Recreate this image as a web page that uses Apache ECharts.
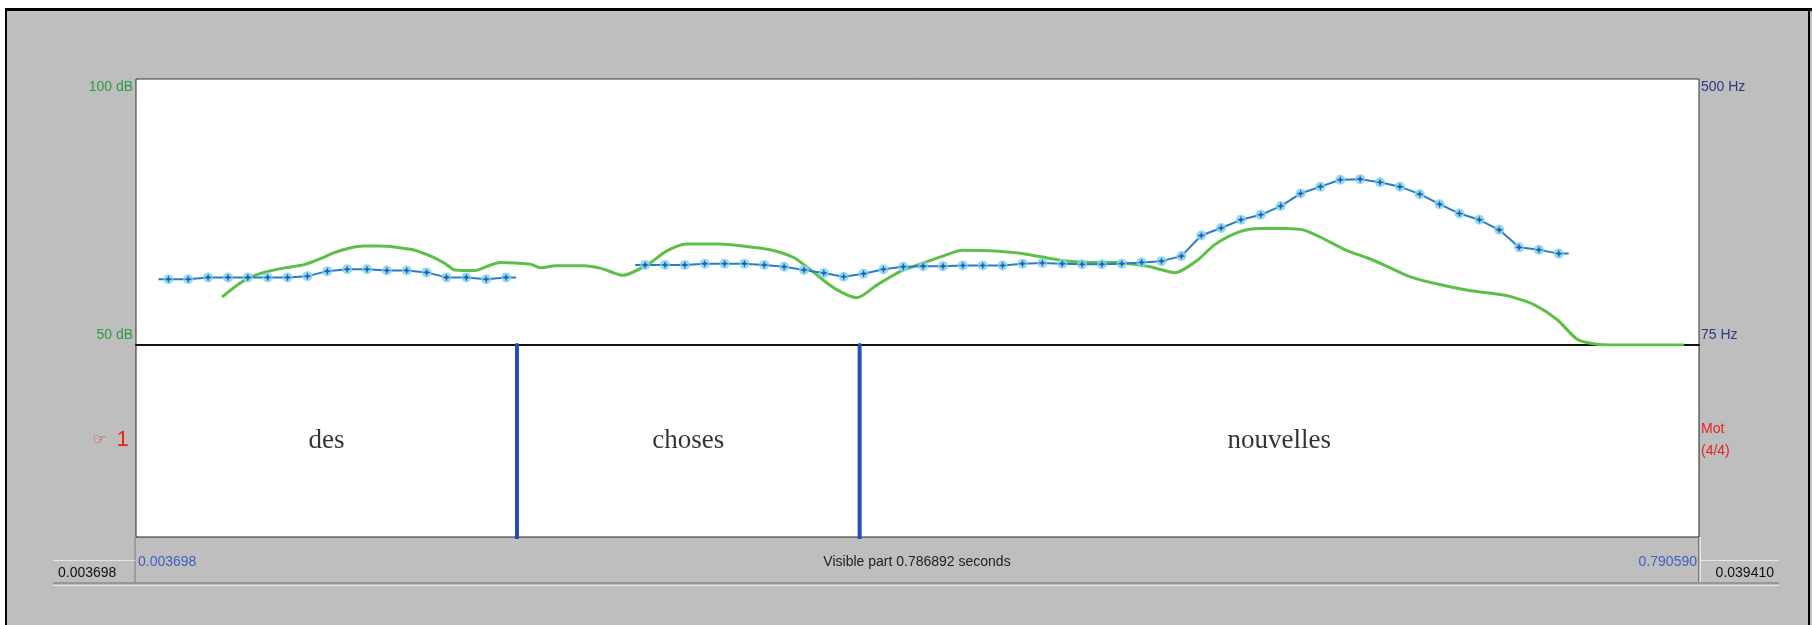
<!DOCTYPE html>
<html>
<head>
<meta charset="utf-8">
<script src="https://cdn.jsdelivr.net/npm/echarts@6/dist/echarts.min.js"></script>
<style>
  html, body { margin: 0; padding: 0; background: #bebebe; }
  #chart { width: 1812px; height: 625px; }
</style>
</head>
<body>
<div id="chart"></div>
<script>
/* temps visibles */
var tStart = 0.003698;
var tEnd = 0.790590;

/* ticks des axes */
var dbTicks = [50, 100];
var hzTicks = [75, 500];

/* pitch (Hz), deux segments voises */
var pitchTimes1 = [0.02, 0.03, 0.04, 0.05, 0.06, 0.07, 0.08, 0.09, 0.10, 0.11, 0.12, 0.13, 0.14, 0.15, 0.16, 0.17, 0.18, 0.19];
var pitchHz1 = [180, 180, 183, 183, 183, 183, 183, 185, 193, 196, 196, 194, 194, 191, 183, 183, 180, 183];

var pitchTimes2 = [0.26, 0.27, 0.28, 0.29, 0.30, 0.31, 0.32, 0.33, 0.34, 0.35,
    0.36, 0.37, 0.38, 0.39, 0.40, 0.41, 0.42, 0.43, 0.44, 0.45,
    0.46, 0.47, 0.48, 0.49, 0.50, 0.51, 0.52, 0.53, 0.54, 0.55,
    0.56, 0.57, 0.58, 0.59, 0.60, 0.61, 0.62, 0.63, 0.64, 0.65,
    0.66, 0.67, 0.68, 0.69, 0.70, 0.71, 0.72];
var pitchHz2 = [203, 203, 203, 205, 205, 205, 203, 200, 195, 190,
    184, 189, 196, 200, 201, 201, 202, 202, 202, 205,
    206, 205, 204, 204, 205, 207, 209, 217, 250, 262,
    275, 283, 297, 317, 328, 339, 340, 335, 328, 316,
    300, 285, 275, 259, 231, 227, 221];

/* intensite (dB) */
var intTimes = [0.0470, 0.0556, 0.0611, 0.0686, 0.0787, 0.0883, 0.0963, 0.1039, 0.1109, 0.1180,
    0.1265, 0.1341, 0.1432, 0.1527, 0.1593, 0.1643, 0.1744, 0.1819, 0.1870, 0.1945,
    0.2021, 0.2076, 0.2151, 0.2292, 0.2378, 0.2489, 0.2620, 0.2705, 0.2806, 0.2977,
    0.3093, 0.3229, 0.3350, 0.3440, 0.3556, 0.3667, 0.3768, 0.3883, 0.3984, 0.4100,
    0.4196, 0.4336, 0.4497, 0.4633, 0.4719, 0.4890, 0.4981, 0.5056, 0.5142, 0.5268,
    0.5379, 0.5469, 0.5595, 0.5696, 0.5822, 0.5917, 0.5998, 0.6124, 0.6234, 0.6335,
    0.6446, 0.6572, 0.6743, 0.6904, 0.6959, 0.7075, 0.7191, 0.7292, 0.7382, 0.7458,
    0.7830];
var intDb = [59.0, 61.5, 62.7, 63.7, 64.5, 65.1, 66.2, 67.4, 68.2, 68.6,
    68.6, 68.4, 67.9, 66.6, 65.3, 64.1, 64.0, 65.0, 65.5, 65.4,
    65.2, 64.5, 64.9, 64.9, 64.4, 63.1, 65.3, 67.6, 69.0, 69.0,
    68.6, 67.9, 66.4, 63.9, 60.6, 58.9, 61.3, 63.8, 65.2, 66.7,
    67.8, 67.7, 67.2, 66.3, 65.8, 65.5, 65.5, 65.2, 64.7, 63.6,
    65.9, 68.9, 71.3, 71.9, 71.9, 71.6, 70.3, 67.9, 66.4, 64.8,
    62.9, 61.6, 60.3, 59.5, 59.1, 57.6, 54.8, 51.1, 50.2, 50.0,
    50.0];

/* tier "Mot" */
var tierBounds = [0.003698, 0.1955, 0.368, 0.790590];
var tierWords = ['des', 'choses', 'nouvelles'];

var halfStep = 0.005;

function zip(a, b) {
    var out = [];
    for (var i = 0; i < a.length; i++) out.push([a[i], b[i]]);
    return out;
}
function pitchLine(times, hz) {
    var d = zip(times, hz);
    d.unshift([times[0] - halfStep, hz[0]]);
    d.push([times[times.length - 1] + halfStep, hz[hz.length - 1]]);
    return d;
}

var wordData = [];
for (var i = 0; i < tierWords.length; i++) {
    wordData.push({ value: [(tierBounds[i] + tierBounds[i + 1]) / 2, 0.5], name: tierWords[i] });
}

var starPath = 'path://M0,-5L1.3,-1.3L5,0L1.3,1.3L0,5L-1.3,1.3L-5,0L-1.3,-1.3Z';
var font = 'Arial, "Liberation Sans", sans-serif';

function pitchSeries(times, hz) {
    return [
        {
            type: 'line', xAxisIndex: 0, yAxisIndex: 1,
            data: pitchLine(times, hz), showSymbol: false,
            lineStyle: { color: '#2a7cc8', width: 2 }, z: 4, animation: false
        },
        {
            type: 'scatter', xAxisIndex: 0, yAxisIndex: 1,
            data: zip(times, hz), symbol: 'circle', symbolSize: 10,
            itemStyle: { color: '#7fd6ee', opacity: 0.85 }, z: 5, animation: false
        },
        {
            type: 'scatter', xAxisIndex: 0, yAxisIndex: 1,
            data: zip(times, hz), symbol: starPath, symbolSize: 8,
            itemStyle: { color: '#1b3f9e' }, z: 6, animation: false
        }
    ];
}

/* frontieres du tier : une ligne verticale par frontiere interieure */
var boundSeries = [];
for (var j = 1; j < tierBounds.length - 1; j++) {
    boundSeries.push({
        type: 'line', xAxisIndex: 1, yAxisIndex: 2,
        data: [[tierBounds[j], -0.012], [tierBounds[j], 1]], showSymbol: false,
        lineStyle: { color: '#2150b4', width: 4, cap: 'round' }, z: 4, animation: false
    });
}

var chart = echarts.init(document.getElementById('chart'));
var option = {
    backgroundColor: '#bebebe',
    animation: false,
    grid: [
        { left: 136, top: 79, width: 1563, height: 266, show: true, backgroundColor: '#fff', borderColor: '#333', borderWidth: 1 },
        { left: 136, top: 345, width: 1563, height: 192, show: true, backgroundColor: '#fff', borderColor: '#222', borderWidth: 1 }
    ],
    xAxis: [
        {
            type: 'value', gridIndex: 0, min: tStart, max: tEnd,
            axisLine: { show: true, lineStyle: { color: '#111', width: 2 } },
            axisTick: { show: false }, axisLabel: { show: false }, splitLine: { show: false }
        },
        {
            type: 'value', gridIndex: 1, min: tStart, max: tEnd,
            axisLine: { show: false }, axisTick: { show: false }, axisLabel: { show: false }, splitLine: { show: false }
        }
    ],
    yAxis: [
        {
            type: 'value', gridIndex: 0, position: 'left', min: dbTicks[0], max: dbTicks[1],
            interval: dbTicks[1] - dbTicks[0],
            axisLine: { show: false }, axisTick: { show: false }, splitLine: { show: false },
            axisLabel: {
                margin: 3, color: '#2f9a44', fontSize: 14, fontFamily: font,
                formatter: function (v) { return v === dbTicks[1] ? '{t|' + v + ' dB}' : '{b|' + v + ' dB}'; },
                rich: { t: { padding: [16, 0, 0, 0] }, b: { padding: [0, 0, 20, 0] } }
            }
        },
        {
            type: 'value', gridIndex: 0, position: 'right', min: hzTicks[0], max: hzTicks[1],
            interval: hzTicks[1] - hzTicks[0],
            axisLine: { show: false }, axisTick: { show: false }, splitLine: { show: false },
            axisLabel: {
                margin: 2, color: '#2b3a80', fontSize: 14, fontFamily: font,
                formatter: function (v) { return v === hzTicks[1] ? '{t|' + v + ' Hz}' : '{b|' + v + ' Hz}'; },
                rich: { t: { padding: [16, 0, 0, 0] }, b: { padding: [0, 0, 20, 0] } }
            }
        },
        {
            type: 'value', gridIndex: 1, min: 0, max: 1,
            axisLine: { show: false }, axisTick: { show: false }, axisLabel: { show: false }, splitLine: { show: false }
        }
    ],
    series: [
        {
            type: 'line', xAxisIndex: 0, yAxisIndex: 0,
            data: zip(intTimes, intDb), showSymbol: false, smooth: 0.25,
            lineStyle: { color: '#5cc048', width: 3 }, z: 3, animation: false
        }
    ].concat(pitchSeries(pitchTimes1, pitchHz1), pitchSeries(pitchTimes2, pitchHz2), boundSeries, [
        {
            type: 'scatter', xAxisIndex: 1, yAxisIndex: 2,
            data: wordData, symbolSize: 0,
            label: {
                show: true, position: 'inside', formatter: '{b}',
                color: '#000', fontSize: 27, fontFamily: '"Liberation Serif", "Times New Roman", serif'
            },
            animation: false
        }
    ]),
    graphic: [
        /* cadre */
        { type: 'rect', shape: { x: 0, y: 0, width: 1812, height: 8 }, style: { fill: '#fff' }, z: 10 },
        { type: 'rect', shape: { x: 0, y: 0, width: 5, height: 625 }, style: { fill: '#fff' }, z: 10 },
        { type: 'line', shape: { x1: 5, y1: 9.5, x2: 1812, y2: 9.5 }, style: { stroke: '#000', lineWidth: 3 }, z: 11 },
        { type: 'line', shape: { x1: 6, y1: 8, x2: 6, y2: 625 }, style: { stroke: '#000', lineWidth: 2 }, z: 11 },
        { type: 'line', shape: { x1: 1809, y1: 8, x2: 1809, y2: 625 }, style: { stroke: '#000', lineWidth: 2 }, z: 11 },
        /* tier */
        {
            type: 'text', x: 93, y: 440, z: 10,
            style: {
                text: '{h|\u261E}{n|1}', verticalAlign: 'middle',
                rich: {
                    h: { fill: '#e8231f', font: '15px "DejaVu Sans", sans-serif' },
                    n: { fill: '#e8231f', font: '22px ' + font, padding: [0, 0, 0, 10] }
                }
            }
        },
        { type: 'text', x: 1701, y: 429, style: { text: 'Mot', fill: '#e8231f', font: '14px ' + font, verticalAlign: 'middle' }, z: 10 },
        { type: 'text', x: 1701, y: 451, style: { text: '(4/4)', fill: '#e8231f', font: '14px ' + font, verticalAlign: 'middle' }, z: 10 },
        /* barre du bas */
        { type: 'line', shape: { x1: 135, y1: 537, x2: 135, y2: 583 }, style: { stroke: '#7a7a7a', lineWidth: 1 }, z: 10 },
        { type: 'line', shape: { x1: 1698.5, y1: 537, x2: 1698.5, y2: 583 }, style: { stroke: '#7a7a7a', lineWidth: 1 }, z: 10 },
        { type: 'line', shape: { x1: 1700.5, y1: 537, x2: 1700.5, y2: 583 }, style: { stroke: '#e6e6e6', lineWidth: 1 }, z: 10 },
        { type: 'line', shape: { x1: 53, y1: 560.5, x2: 135, y2: 560.5 }, style: { stroke: '#e6e6e6', lineWidth: 1 }, z: 10 },
        { type: 'line', shape: { x1: 1701, y1: 560.5, x2: 1779, y2: 560.5 }, style: { stroke: '#e6e6e6', lineWidth: 1 }, z: 10 },
        { type: 'line', shape: { x1: 53, y1: 583, x2: 1779, y2: 583 }, style: { stroke: '#8a8a8a', lineWidth: 1.5 }, z: 10 },
        { type: 'line', shape: { x1: 53, y1: 585.5, x2: 1779, y2: 585.5 }, style: { stroke: '#e6e6e6', lineWidth: 1 }, z: 10 },
        { type: 'text', x: 58, y: 573, style: { text: tStart.toFixed(6), fill: '#111', font: '14px ' + font, verticalAlign: 'middle' }, z: 10 },
        { type: 'text', x: 1774, y: 573, style: { text: '0.039410', fill: '#111', font: '14px ' + font, verticalAlign: 'middle', align: 'right' }, z: 10 },
        { type: 'text', x: 138, y: 562, style: { text: tStart.toFixed(6), fill: '#3d5fc4', font: '14px ' + font, verticalAlign: 'middle' }, z: 10 },
        { type: 'text', x: 1697, y: 562, style: { text: tEnd.toFixed(6), fill: '#3d5fc4', font: '14px ' + font, verticalAlign: 'middle', align: 'right' }, z: 10 },
        { type: 'text', x: 917, y: 562, style: { text: 'Visible part ' + (tEnd - tStart).toFixed(6) + ' seconds', fill: '#222', font: '14px ' + font, verticalAlign: 'middle', align: 'center' }, z: 10 }
    ]
};
chart.setOption(option);
</script>
</body>
</html>
